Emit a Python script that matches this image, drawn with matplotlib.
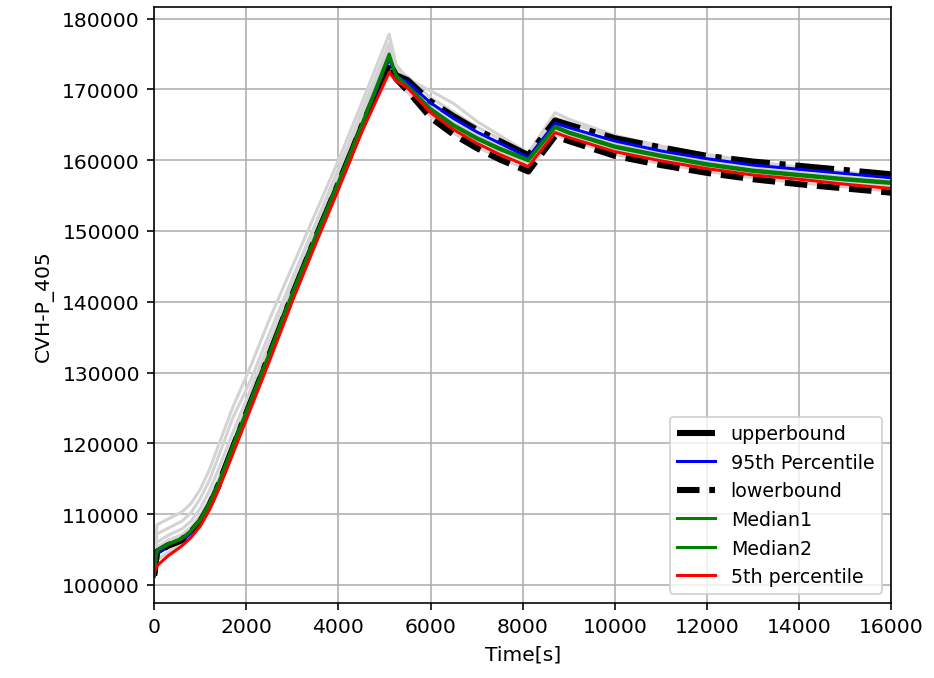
import matplotlib
matplotlib.use("Agg")
import matplotlib.pyplot as plt

# time points [s]
time = [0, 60, 300, 600, 800, 1000, 1200, 1400, 1700, 2100, 2500, 3000, 3500, 4000,
        4500, 5100, 5250, 5500, 6000, 6500, 7000, 7500, 8120, 8700, 9000, 10000,
        11000, 12000, 13000, 14000, 15000, 16000]

# statistics
upperbound = [101500, 104700, 105600, 106400, 107500, 109000, 111300, 114200, 119300,
              125900, 132500, 141000, 149000, 156700, 164700, 173800, 172000, 171300,
              168300, 166200, 164300, 162700, 160700, 165600, 165000, 163100, 161800,
              160600, 159800, 159200, 158600, 158000]
p95 = [101200, 104400, 105400, 106200, 107300, 108800, 111100, 114000, 119100,
       125700, 132300, 140800, 148800, 156500, 164500, 174300, 171800, 171000,
       168100, 165900, 164000, 162400, 160400, 165200, 164600, 162700, 161300,
       160200, 159300, 158700, 158100, 157500]
lowerbound = [101300, 104600, 105500, 106300, 107400, 108900, 111200, 114100, 119200,
              125800, 132400, 140900, 148900, 156600, 164600, 173500, 171500, 169800,
              166000, 163600, 161700, 160100, 158400, 163400, 162700, 160600, 159300,
              158200, 157300, 156600, 156000, 155400]
median1 = [101300, 104900, 105800, 106600, 107700, 109300, 111600, 114500, 119600,
           126200, 132800, 141300, 149300, 157000, 165000, 175000, 172000, 170500,
           167300, 165000, 163200, 161700, 160100, 164800, 164000, 162000, 160700,
           159500, 158600, 158000, 157400, 156900]
median2 = [101200, 104800, 105700, 106500, 107600, 109100, 111400, 114200, 119300,
           125900, 132500, 141000, 149000, 156700, 164700, 174700, 171800, 170300,
           167100, 164800, 163000, 161500, 159900, 164600, 163800, 161800, 160500,
           159300, 158400, 157800, 157200, 156700]
p5 = [101800, 102700, 104100, 105500, 106700, 108300, 110600, 113500, 118400,
      125000, 131600, 140100, 148100, 155900, 163900, 172400, 171200, 170200,
      166700, 164300, 162400, 160800, 159100, 163900, 163200, 161200, 159900,
      158800, 157900, 157300, 156600, 156000]

# individual samples (grey)
sample1 = [101500, 108500, 109300, 110300, 111500, 113500, 116300, 119800, 125000,
           131000, 137500, 145000, 152500, 160000, 168000, 177800, 173500, 171500,
           169800, 168000, 165500, 163500, 161000, 166700, 165800, 163500, 162000,
           160800, 159800, 159000, 158300, 157700]
sample2 = [101400, 107200, 108000, 109000, 110200, 112200, 114800, 118200, 123500,
           129000, 135500, 143300, 151000, 158800, 166800, 176500, 172800, 171800,
           168800, 166800, 164700, 163000, 161000, 166000, 165300, 163200, 161700,
           160500, 159600, 158900, 158300, 157600]
sample3 = [101300, 106000, 107000, 107900, 109000, 110800, 113300, 116400, 121400,
           127700, 134200, 142300, 150100, 157800, 165800, 175800, 172300, 170800,
           167700, 165500, 163600, 162000, 160400, 165300, 164500, 162400, 161000,
           159800, 158900, 158200, 157600, 157000]
sample4 = [101300, 105300, 106300, 107100, 108200, 109800, 112100, 115000, 120100,
           126700, 133300, 141700, 149700, 157400, 165400, 175000, 171700, 170100,
           166900, 164600, 162800, 161200, 159600, 164300, 163600, 161600, 160300,
           159100, 158200, 157500, 156900, 156400]
sample5 = [101600, 103500, 104600, 105700, 106900, 108500, 110900, 113800, 118800,
           125400, 132000, 140500, 148500, 156300, 164300, 173200, 171300, 169600,
           166200, 163800, 161900, 160300, 158600, 163600, 162900, 160800, 159500,
           158400, 157500, 156800, 156200, 155600]
samples = [sample1, sample2, sample3, sample4, sample5]

fig = plt.figure(figsize=(6.4, 4.65), dpi=146)
ax = fig.add_subplot(111)
fig.subplots_adjust(left=0.165, right=0.954, bottom=0.11, top=0.988)

# muestras individuales en gris
for s in samples:
    ax.plot(time, s, color='lightgray', linewidth=1.5)

ax.plot(time, upperbound, color='black', linestyle='-.', linewidth=3, label='upperbound')
ax.plot(time, p95, color='blue', linewidth=1.5, label='95th Percentile')
ax.plot(time, lowerbound, color='black', linestyle='--', linewidth=3, label='lowerbound')
ax.plot(time, median1, color='green', linewidth=1.5, label='Median1')
ax.plot(time, median2, color='green', linewidth=1.5, label='Median2')
ax.plot(time, p5, color='red', linewidth=1.5, label='5th percentile')

ax.set_xlim(0, 16000)
ax.set_ylim(97400, 181600)
ax.set_xlabel('Time[s]')
ax.set_ylabel('CVH-P_405')
ax.grid(True)
ax.legend(loc='lower right', fontsize=9.4)

fig.savefig('out.png', dpi=146)
